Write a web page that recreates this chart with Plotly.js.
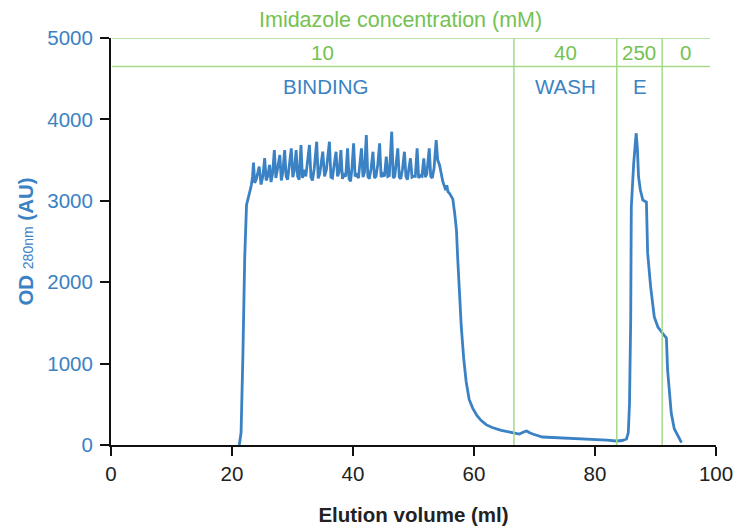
<!DOCTYPE html>
<html>
<head>
<meta charset="utf-8">
<script src="https://cdn.plot.ly/plotly-3.0.1.min.js"></script>
<style>
html,body{margin:0;padding:0;background:#fff;}
#chart{width:739px;height:527px;}
</style>
</head>
<body>
<div id="chart"></div>
<script>
// Elution volume (ml)
const volume = [
  21.2, 21.5, 21.8, 22.1, 22.4, 22.7, 23.0, 23.2, 23.4, 23.55, 23.75,
  24.0, 24.3, 24.5, 24.8, 25.1, 25.4, 25.65, 25.9, 26.2, 26.45, 26.7,
  27.0, 27.25, 27.5, 27.9, 28.15, 28.4, 28.7, 28.95, 29.2, 29.5, 29.8,
  30.05, 30.3, 30.6, 30.85, 31.1, 31.4, 31.65, 31.9, 32.2, 32.5, 32.8,
  33.05, 33.3, 33.6, 34.0, 34.25, 34.5, 35.0, 35.3, 35.6, 36.1, 36.35,
  36.6, 36.9, 37.2, 37.45, 37.7, 38.0, 38.25, 38.5, 38.8, 39.1, 39.35,
  39.6, 39.85, 40.1, 40.35, 40.6, 40.9, 41.4, 41.65, 41.9, 42.2, 42.45,
  42.7, 43.0, 43.3, 43.55, 43.8, 44.1, 44.4, 44.65, 44.9, 45.2, 45.5,
  45.75, 46.0, 46.4, 46.65, 46.9, 47.1, 47.4, 47.65, 47.9, 48.2, 48.5,
  48.75, 49.0, 49.2, 49.5, 49.75, 50.0, 50.3, 50.6, 50.85, 51.1, 51.4,
  51.7, 51.95, 52.2, 52.6, 52.85, 53.1, 53.4, 53.75, 54.0, 54.3, 54.6,
  54.85, 55.1, 55.3, 55.5, 55.7, 55.95, 56.2, 56.5, 56.8, 57.1, 57.3,
  57.6, 57.9, 58.3, 58.7, 59.2, 59.8, 60.5, 61.2, 62.0, 63.0, 64.5,
  66.4, 67.5, 68.2, 68.7, 69.2, 69.7, 71.3, 73.5, 75.8, 78.0, 80.2,
  82.0, 83.5, 84.5, 85.2, 85.5, 85.7, 85.9, 86.0, 86.4, 86.8, 87.0,
  87.2, 87.5, 87.9, 88.5, 88.7, 89.2, 89.8, 90.4, 91.0, 91.8, 92.0,
  92.6, 93.1, 93.5, 94.3
];
// OD 280nm (AU)
const od = [
  0, 150, 1100, 2300, 2950, 3060, 3130, 3194, 3300, 3470, 3220,
  3260, 3340, 3419, 3200, 3300, 3525, 3250, 3300, 3440, 3230, 3330,
  3624, 3280, 3380, 3563, 3250, 3350, 3624, 3300, 3260, 3450, 3645,
  3290, 3370, 3624, 3300, 3260, 3686, 3280, 3380, 3300, 3480, 3686,
  3290, 3250, 3400, 3726, 3276, 3330, 3603, 3300, 3380, 3726, 3290,
  3280, 3450, 3603, 3300, 3350, 3624, 3270, 3320, 3300, 3645, 3270,
  3240, 3420, 3706, 3300, 3320, 3280, 3645, 3290, 3350, 3808, 3300,
  3270, 3400, 3603, 3280, 3300, 3450, 3706, 3290, 3330, 3300, 3542,
  3300, 3310, 3849, 3280, 3300, 3420, 3645, 3290, 3270, 3400, 3603,
  3300, 3260, 3380, 3522, 3290, 3300, 3300, 3645, 3280, 3310, 3300,
  3522, 3290, 3330, 3645, 3300, 3280, 3400, 3747, 3500, 3440, 3300,
  3235, 3180, 3133, 3190, 3110, 3092, 3060, 3020, 2850, 2640, 2300,
  1850, 1450, 1060, 780, 560, 450, 360, 300, 250, 215, 180,
  147, 135, 160, 172, 150, 135, 98, 90, 86, 80, 74,
  60, 49, 55, 74, 150, 500, 1535, 2924, 3464, 3830, 3650,
  3292, 3133, 3010, 2985, 2360, 1940, 1572, 1450, 1388, 1314, 921,
  393, 200, 147, 30
];

// Imidazole step table
const stageBounds = [66.6, 83.6, 91.1];
const headerTop = 5000;
const headerRow = 4650;
const headerEnd = 99;
const concLabels = ['10', '40', '250', '0'];
const concCenters = [34.9, 75.1, 87.35, 95.0];
const stageNames = ['BINDING', 'WASH', 'E'];
const stageCenters = [35.4, 75.2, 87.4];
const xTicks = [0, 20, 40, 60, 80, 100];
const yTicks = [0, 1000, 2000, 3000, 4000, 5000];

const BLUE = '#3b82c4';
const GREEN_LINE = '#a3da8c';
const GREEN_TEXT = '#74c252';
const FONT = 'Liberation Sans, Arial, Helvetica, sans-serif';

const trace = {
  x: volume, y: od, type: 'scatter', mode: 'lines',
  line: {color: BLUE, width: 2.8, shape: 'linear'},
  hoverinfo: 'x+y', showlegend: false
};

const shapes = [];
[headerTop, headerRow].forEach(v => shapes.push({
  type: 'line', xref: 'x', yref: 'y', x0: 0.2, x1: headerEnd, y0: v, y1: v,
  line: {color: GREEN_LINE, width: 1.5}
}));
stageBounds.forEach(b => shapes.push({
  type: 'line', xref: 'x', yref: 'y', x0: b, x1: b, y0: 0, y1: headerTop,
  line: {color: GREEN_LINE, width: 1.5}
}));

const annotations = [];
annotations.push({
  text: 'Imidazole concentration (mM)', xref: 'x', yref: 'paper',
  x: 47.8, y: 1.043, xanchor: 'center', yanchor: 'middle', showarrow: false,
  font: {family: FONT, size: 21.5, color: GREEN_TEXT}
});
concLabels.forEach((t, i) => annotations.push({
  text: t, xref: 'x', yref: 'y', x: concCenters[i], y: (headerTop + headerRow) / 2,
  xanchor: 'center', yanchor: 'middle', showarrow: false,
  font: {family: FONT, size: 20.5, color: GREEN_TEXT}
}));
stageNames.forEach((t, i) => annotations.push({
  text: t, xref: 'x', yref: 'y', x: stageCenters[i], y: 4400,
  xanchor: 'center', yanchor: 'middle', showarrow: false,
  font: {family: FONT, size: 20.5, color: BLUE}
}));

const layout = {
  width: 739, height: 527,
  margin: {l: 111, r: 23, t: 38, b: 82, pad: 0},
  paper_bgcolor: '#ffffff', plot_bgcolor: '#ffffff',
  font: {family: FONT, size: 20.5, color: '#222222'},
  xaxis: {
    range: [0, 100], tickvals: xTicks, ticktext: xTicks.map(String),
    showgrid: false, zeroline: false, showline: true, linecolor: '#111111', linewidth: 2,
    ticks: 'outside', ticklen: 9, tickwidth: 2, tickcolor: '#111111',
    tickfont: {family: FONT, size: 20.5, color: '#222222'},
    title: {text: '<b>Elution volume (ml)</b>', font: {family: FONT, size: 20.5, color: '#222222'}, standoff: 24}
  },
  yaxis: {
    range: [0, 5000], tickvals: yTicks, ticktext: yTicks.map(String),
    showgrid: false, zeroline: false, showline: true, linecolor: '#111111', linewidth: 2,
    ticks: 'outside', ticklen: 9, tickwidth: 2, tickcolor: '#111111',
    ticklabelstandoff: 3,
    tickfont: {family: FONT, size: 20.5, color: BLUE},
    title: {text: "<b>OD</b> <span style='font-size:14px'>280nm</span> <b>(AU)</b>",
            font: {family: FONT, size: 20.5, color: BLUE}, standoff: 8}
  },
  shapes: shapes,
  annotations: annotations,
  showlegend: false
};

Plotly.newPlot('chart', [trace], layout, {displayModeBar: false, staticPlot: true});
</script>
</body>
</html>
